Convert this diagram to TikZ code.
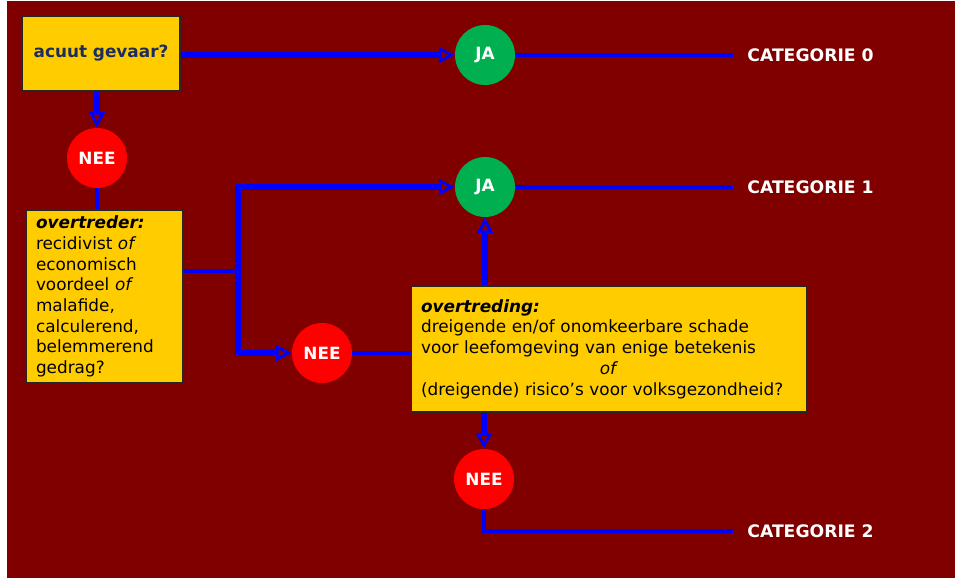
\documentclass[tikz,border=0pt]{standalone}
\usepackage{fontspec}
\setmainfont{DejaVu Sans}
\usetikzlibrary{arrows.meta}
\definecolor{bgred}{RGB}{128,0,0}
\definecolor{boxyellow}{RGB}{255,204,0}
\definecolor{jagreen}{RGB}{0,176,80}
\definecolor{neered}{RGB}{255,0,0}
\definecolor{flowblue}{RGB}{0,0,255}
\definecolor{navy}{RGB}{28,45,95}
\begin{document}
\begin{tikzpicture}[x=0.02cm, y=-0.02cm,
    qbox/.style={draw=black!85, line width=0.6pt, fill=boxyellow, inner xsep=0.2cm, inner ysep=0pt, font=\fontsize{9.6}{11.8}\selectfont, align=left},
    answer/.style={circle, minimum size=1.2cm, inner sep=0pt, text=white, font=\fontsize{9.6}{11}\selectfont\bfseries},
    ja/.style={answer, fill=jagreen},
    nee/.style={answer, fill=neered},
    cat/.style={anchor=west, inner xsep=0.28cm, inner ysep=0pt, text=white, font=\fontsize{9.8}{11}\selectfont\bfseries},
    flow/.style={draw=flowblue, line width=3.6pt, -{Triangle[open, length=9pt, width=9pt, line width=1.6pt]}},
    link/.style={draw=flowblue, line width=2.8pt}]
\useasboundingbox (0,0) rectangle (955,578);
\fill[bgred] (7,1) rectangle (955,578);
% vragen
\node[qbox, minimum width=3.16cm, minimum height=1.5cm, align=center, text=navy, font=\fontsize{9.6}{11}\selectfont\bfseries] (gevaar) at (101,53.5) {acuut gevaar?};
\node[qbox, text width=2.74cm, minimum height=3.46cm] (dader) at (104.5,296.5) {\textbf{\textit{overtreder:}}\\ recidivist \textit{of}\\ economisch\\ voordeel \textit{of}\\ malafide,\\ calculerend,\\ belemmerend\\ gedrag?};
\node[qbox, text width=7.52cm, minimum height=2.52cm] (daad) at (609,349) {\textbf{\textit{overtreding:}}\\ dreigende en/of onomkeerbare schade\\ voor leefomgeving van enige betekenis\\ \leavevmode\hbox to\hsize{\hfil\textit{of}\hfil}\\ (dreigende) risico’s voor volksgezondheid?};
% antwoorden
\node[ja] (ja0) at (485,55) {JA};
\node[ja] (ja1) at (485,187) {JA};
\node[nee] (nee0) at (97,158) {NEE};
\node[nee] (nee1) at (322,353) {NEE};
\node[nee] (nee2) at (484,479) {NEE};
% categorieen
\node[cat] (cat0) at (733,55) {CATEGORIE 0};
\node[cat] (cat1) at (733,187) {CATEGORIE 1};
\node[cat] (cat2) at (733,531) {CATEGORIE 2};
\coordinate (split) at (238,271);
% verbindingen
\draw[flow] (gevaar.east |- ja0) -- (ja0);
\draw[link] (ja0) -- (cat0);
\draw[flow] (gevaar.south -| nee0) -- (nee0);
\draw[link] (nee0) -- (nee0 |- dader.north);
\draw[link] (dader.east |- split) -- (split);
\draw[flow] (split) |- (ja1);
\draw[flow] (split) |- (nee1);
\draw[link] (nee1) -- (nee1 -| daad.west);
\draw[flow] (daad.north -| ja1) -- (ja1);
\draw[link] (ja1) -- (cat1);
\draw[flow] (daad.south -| nee2) -- (nee2);
\draw[link] (nee2) |- (cat2);
\end{tikzpicture}
\end{document}
